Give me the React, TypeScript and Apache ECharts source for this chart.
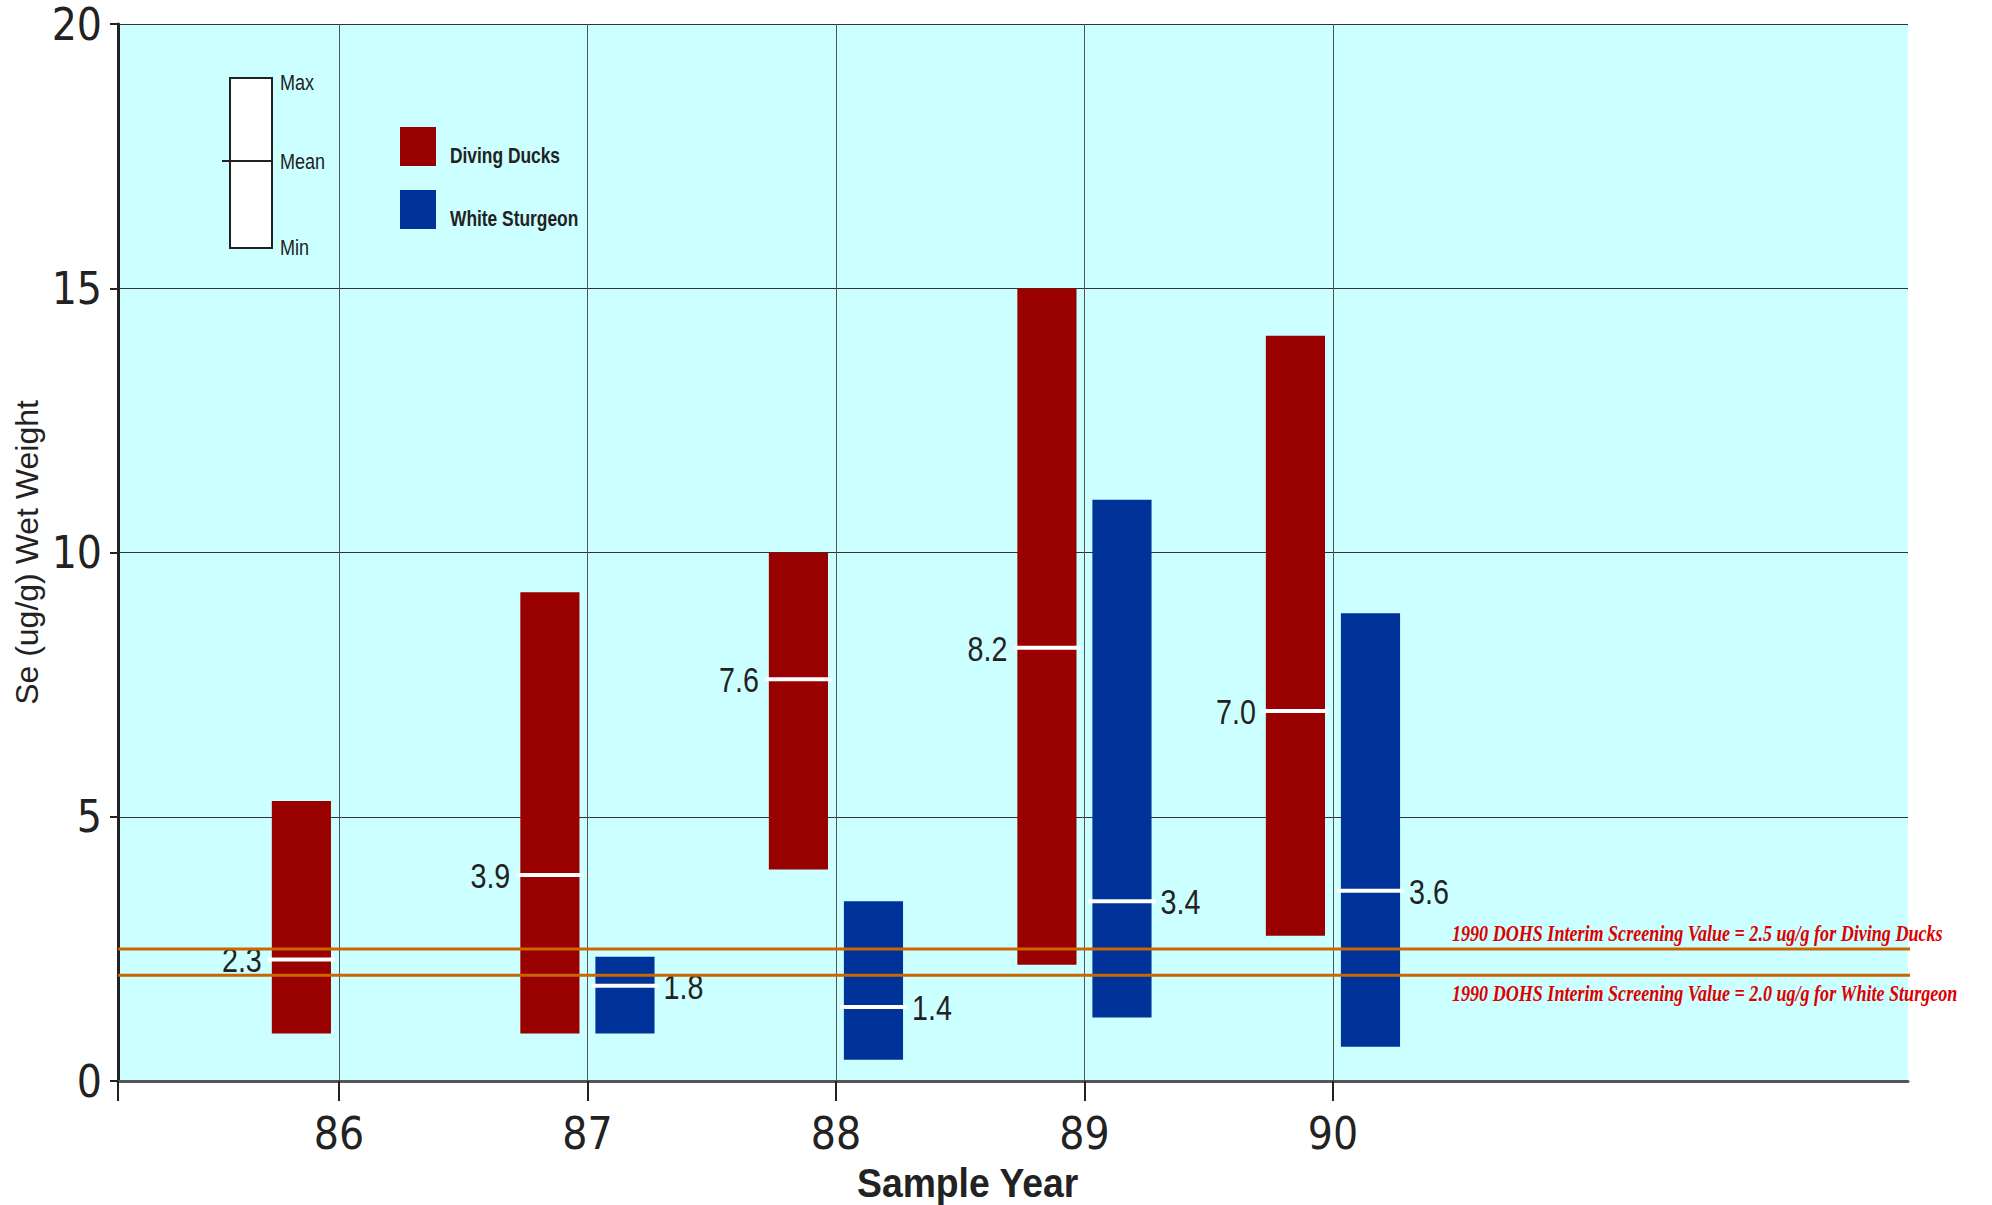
import React, { useEffect, useRef } from "react";
import * as echarts from "echarts";

// ---- data ----
const years = [86, 87, 88, 89, 90];
const duckMin = [0.9, 0.9, 4.0, 2.2, 2.75];
const duckMax = [5.3, 9.25, 10.0, 15.0, 14.1];
const duckMean = [2.3, 3.9, 7.6, 8.2, 7.0];

const sturgeonYears = [87, 88, 89, 90];
const sturgeonMin = [0.9, 0.4, 1.2, 0.65];
const sturgeonMax = [2.35, 3.4, 11.0, 8.85];
const sturgeonMean = [1.8, 1.4, 3.4, 3.6];

const xTickLabels = [86, 87, 88, 89, 90];
const xAxisMin = 85.111;
const xAxisMax = 92.314;
const refLineEndX = 92.604;
const duckScreening = 2.5;
const sturgeonScreening = 2.0;

const duckLabel = "1990 DOHS Interim Screening Value = 2.5 ug/g for Diving Ducks";
const sturgeonLabel = "1990 DOHS Interim Screening Value = 2.0 ug/g for White Sturgeon";

const CONDENSED = "'DejaVu Sans Condensed', 'Liberation Sans', sans-serif";
const SANS = "'Liberation Sans', Arial, sans-serif";
const NARROW_SCALE = 0.82;
const DUCK_COLOR = "#990000";
const STURGEON_COLOR = "#003399";

const makeRender = (side: number, color: string) => (params: any, api: any) => {
  const x = api.value(0);
  const lo = api.value(1);
  const hi = api.value(2);
  const mean = api.value(3);
  const unit = api.size([1, 0])[0];
  const cx = api.coord([x, 0])[0];
  const w = unit * 0.238;
  const left = side < 0 ? cx - unit * 0.032 - w : cx + unit * 0.032;
  const top = api.coord([x, hi])[1];
  const bottom = api.coord([x, lo])[1];
  const my = api.coord([x, mean])[1];
  return {
    type: "group",
    children: [
      { type: "rect", shape: { x: left, y: top, width: w, height: bottom - top }, style: { fill: color } },
      { type: "line", shape: { x1: left - 4, y1: my, x2: left + w + 4, y2: my }, style: { stroke: "#ffffff", lineWidth: 4 } },
      {
        type: "text",
        x: side < 0 ? left - 10 : left + w + 9,
        y: my + 1,
        scaleX: NARROW_SCALE,
        style: {
          text: mean.toFixed(1),
          x: 0,
          y: 0,
          align: side < 0 ? "right" : "left",
          verticalAlign: "middle",
          fontSize: 35,
          fontFamily: SANS,
          fill: "#222222",
        },
      },
    ],
  };
};

export default function App() {
  const ref = useRef<HTMLDivElement>(null);
  useEffect(() => {
    if (!ref.current) return;
    const chart = echarts.init(ref.current, null, { renderer: "svg" });
    const option: any = {
      animation: false,
      backgroundColor: "#ffffff",
      grid: {
        left: 118,
        top: 24,
        right: 84,
        bottom: 124,
        outerBoundsMode: "none",
        containLabel: false,
        show: true,
        backgroundColor: "#CCFFFF",
        borderWidth: 0,
      },
      xAxis: {
        type: "value",
        min: xAxisMin,
        max: xAxisMax,
        axisLine: { show: true, lineStyle: { color: "#555555", width: 3 } },
        axisTick: {
          show: true,
          length: 20,
          customValues: [xAxisMin, ...xTickLabels],
          lineStyle: { color: "#222222", width: 2 },
        },
        axisLabel: {
          customValues: xTickLabels,
          fontSize: 44,
          fontFamily: CONDENSED,
          color: "#222222",
          margin: 30,
          formatter: (v: number) => String(Math.round(v)),
        },
        splitLine: { show: true, lineStyle: { color: "#555555", width: 1 } },
      },
      yAxis: {
        type: "value",
        min: 0,
        max: 20,
        interval: 5,
        name: "Se (ug/g) Wet Weight",
        nameLocation: "middle",
        nameGap: 75,
        nameMoveOverlap: false,
        nameTextStyle: { fontSize: 32, fontFamily: SANS, color: "#222222" },
        axisLine: { show: true, lineStyle: { color: "#222222", width: 3 } },
        axisTick: { show: true, length: 8, lineStyle: { color: "#222222", width: 2 } },
        axisLabel: { fontSize: 44, fontFamily: CONDENSED, color: "#222222", margin: 16 },
        splitLine: { show: true, lineStyle: { color: "#333333", width: 1 } },
      },
      series: [
        {
          name: "Diving Ducks",
          type: "custom",
          renderItem: makeRender(-1, DUCK_COLOR),
          encode: { x: 0, y: [1, 2, 3] },
          data: years.map((y, i) => [y, duckMin[i], duckMax[i], duckMean[i]]),
          z: 2,
        },
        {
          name: "White Sturgeon",
          type: "custom",
          renderItem: makeRender(1, STURGEON_COLOR),
          encode: { x: 0, y: [1, 2, 3] },
          data: sturgeonYears.map((y, i) => [y, sturgeonMin[i], sturgeonMax[i], sturgeonMean[i]]),
          z: 2,
        },
        {
          name: "Ducks screening",
          type: "line",
          clip: false,
          silent: true,
          symbol: "none",
          lineStyle: { color: "#CC6600", width: 3 },
          data: [[xAxisMin, duckScreening], [refLineEndX, duckScreening]],
          z: 3,
        },
        {
          name: "Sturgeon screening",
          type: "line",
          clip: false,
          silent: true,
          symbol: "none",
          lineStyle: { color: "#CC6600", width: 3 },
          data: [[xAxisMin, sturgeonScreening], [refLineEndX, sturgeonScreening]],
          z: 3,
        },
      ],
    };
    chart.setOption(option);

    const yDuck = chart.convertToPixel({ yAxisIndex: 0 }, duckScreening) as number;
    const ySturg = chart.convertToPixel({ yAxisIndex: 0 }, sturgeonScreening) as number;

    const ctx = document.createElement("canvas").getContext("2d");
    const fit = (text: string, font: string, target: number, fallback: number) => {
      if (!ctx) return fallback;
      ctx.font = font;
      const w = ctx.measureText(text).width;
      return w > 0 ? target / w : fallback;
    };

    const s1 = fit(duckLabel, "italic bold 24px 'Liberation Serif'", 491, 0.8);
    const s2 = fit(sturgeonLabel, "italic bold 24px 'Liberation Serif'", 506, 0.8);
    const sYear = fit("Sample Year", "bold 40px 'Liberation Sans'", 222, 0.9);

    const redStyle = {
      fontFamily: "'Liberation Serif', 'Times New Roman', serif",
      fontStyle: "italic",
      fontWeight: "bold",
      fontSize: 24,
      fill: "#DD0000",
      align: "left",
      verticalAlign: "middle",
    };
    const legendText = (text: string, x: number, y: number, bold: boolean) => ({
      type: "text",
      x,
      y,
      scaleX: bold ? 0.79 : NARROW_SCALE,
      style: {
        text,
        x: 0,
        y: 0,
        fontFamily: SANS,
        fontSize: 22,
        fontWeight: bold ? "bold" : "normal",
        fill: "#222222",
        align: "left",
        verticalAlign: "middle",
      },
      z: 10,
    });

    chart.setOption({
      graphic: [
        { type: "text", x: 1452, y: yDuck - 16, scaleX: s1, style: { text: duckLabel, x: 0, y: 0, ...redStyle }, z: 10 },
        { type: "text", x: 1452, y: ySturg + 18, scaleX: s2, style: { text: sturgeonLabel, x: 0, y: 0, ...redStyle }, z: 10 },
        // min/mean/max key
        { type: "rect", shape: { x: 230, y: 78, width: 42, height: 170 }, style: { fill: "#ffffff", stroke: "#222222", lineWidth: 2 }, z: 10 },
        { type: "line", shape: { x1: 222, y1: 161, x2: 272, y2: 161 }, style: { stroke: "#222222", lineWidth: 2 }, z: 11 },
        legendText("Max", 280, 82, false),
        legendText("Mean", 280, 161, false),
        legendText("Min", 280, 247, false),
        // series legend
        { type: "rect", shape: { x: 400, y: 127, width: 36, height: 39 }, style: { fill: DUCK_COLOR }, z: 10 },
        { type: "rect", shape: { x: 400, y: 190, width: 36, height: 39 }, style: { fill: STURGEON_COLOR }, z: 10 },
        legendText("Diving Ducks", 450, 155, true),
        legendText("White Sturgeon", 450, 218, true),
        // x axis title
        {
          type: "text",
          x: 857,
          y: 1183,
          scaleX: sYear,
          style: {
            text: "Sample Year",
            x: 0,
            y: 0,
            fontFamily: SANS,
            fontSize: 40,
            fontWeight: "bold",
            fill: "#222222",
            align: "left",
            verticalAlign: "middle",
          },
          z: 10,
        },
      ],
    });

    return () => chart.dispose();
  }, []);
  return (
    <div
      ref={ref}
      style={{ position: "absolute", left: 0, top: 0, width: 1992, height: 1205 }}
    />
  );
}
